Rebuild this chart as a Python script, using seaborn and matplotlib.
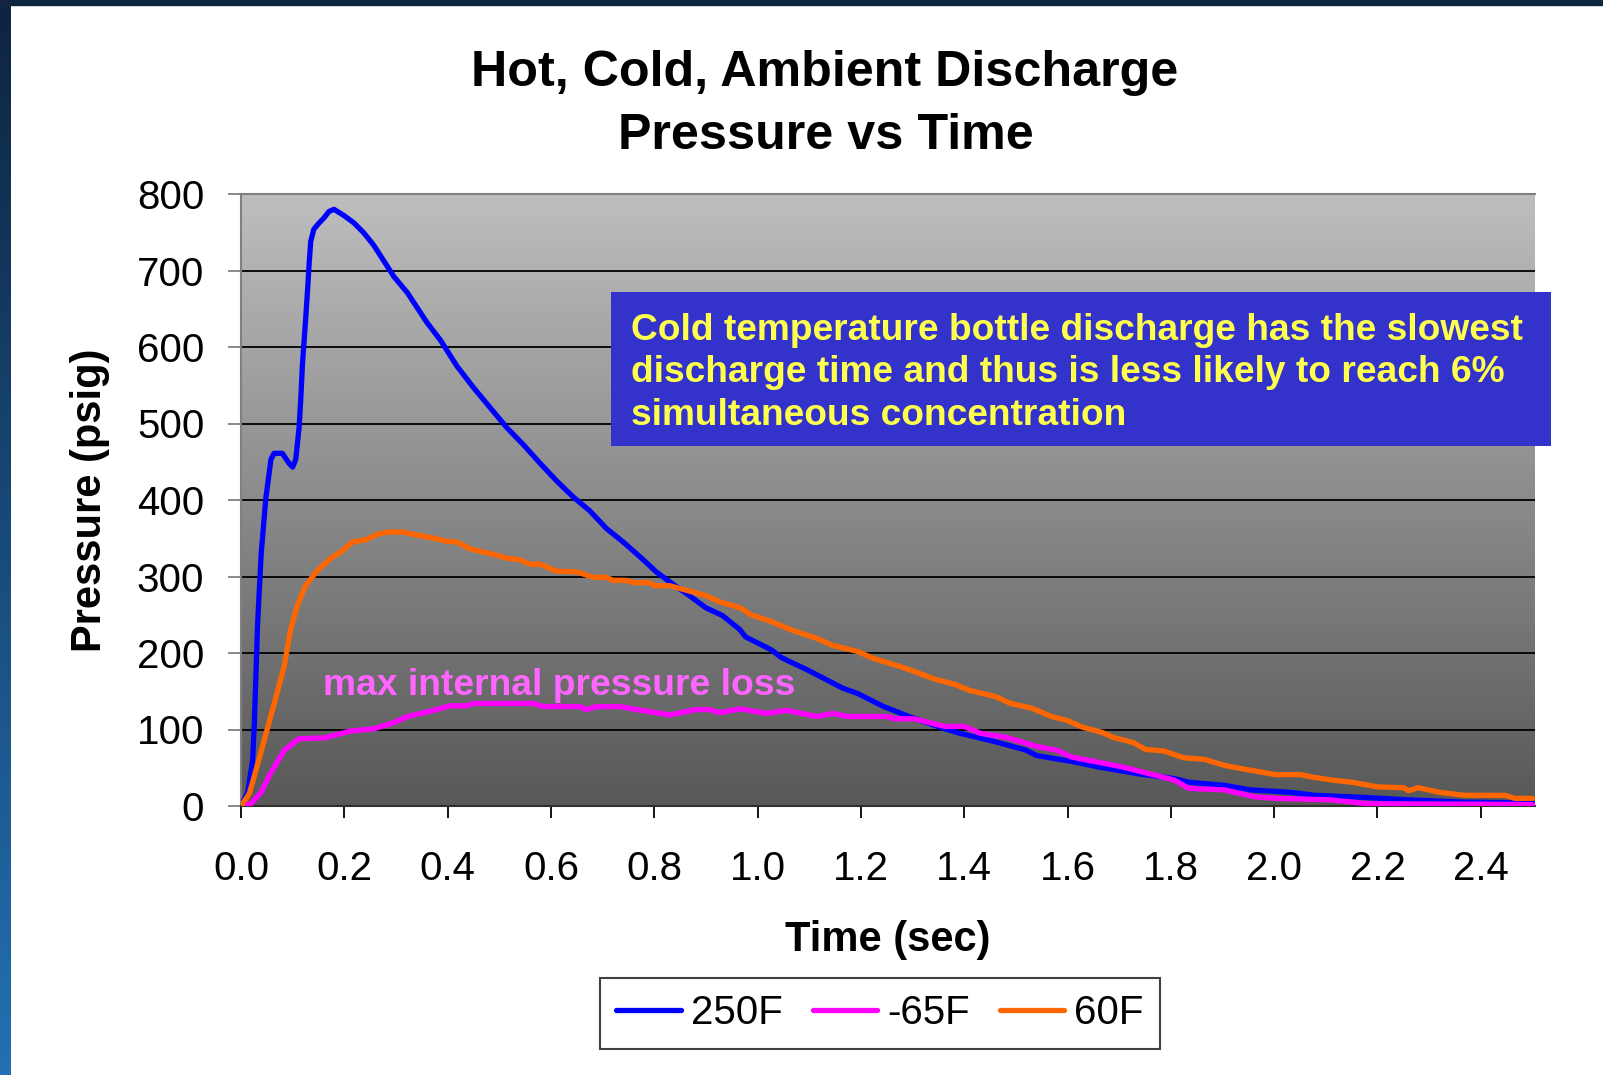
import numpy as np
import pandas as pd
import matplotlib
matplotlib.use("Agg")
import matplotlib.pyplot as plt
import seaborn as sns
from matplotlib.colors import LinearSegmentedColormap
from matplotlib.patches import Rectangle
from matplotlib.lines import Line2D

# ---------------- data ----------------
series_names = ["250F", "-65F", "60F"]
series_colors = ["#0000FF", "#FF00FF", "#FF6600"]

t_250 = [0, 0.013, 0.0225, 0.026, 0.032, 0.039, 0.048, 0.058, 0.064, 0.080, 0.093, 0.100,
         0.106, 0.1125, 0.116, 0.119, 0.125, 0.129, 0.132, 0.135, 0.141, 0.151, 0.161, 0.170,
         0.180, 0.199, 0.219, 0.238, 0.257, 0.277, 0.296, 0.322, 0.36, 0.386, 0.418, 0.45,
         0.482, 0.514, 0.547, 0.579, 0.611, 0.643, 0.675, 0.707, 0.74, 0.772, 0.804, 0.836,
         0.868, 0.9, 0.932, 0.965, 0.977, 1.027, 1.046, 1.096, 1.165, 1.194, 1.244, 1.293,
         1.362, 1.392, 1.46, 1.52, 1.54, 1.61, 1.66, 1.737, 1.806, 1.835, 1.904, 1.954,
         2.03, 2.08, 2.18, 2.26, 2.37, 2.50]
p_250 = [0, 18, 60, 111, 236, 329, 402, 453, 461, 461, 448, 443,
         453, 495, 536, 578, 635, 676, 710, 738, 754, 762, 769, 777,
         780, 772, 762, 749, 733, 712, 692, 671, 632, 609, 575, 547,
         521, 495, 472, 448, 425, 404, 386, 363, 345, 326, 306, 290,
         275, 259, 249, 231, 221, 204, 194, 178, 154, 147, 130, 117,
         101, 95, 84, 73, 66, 58, 51, 42, 36, 31, 27, 21,
         18, 14, 11, 8, 5, 4]

t_m65 = [0, 0.019, 0.039, 0.058, 0.084, 0.1125, 0.161, 0.212, 0.257, 0.296, 0.322, 0.367,
         0.405, 0.437, 0.45, 0.566, 0.585, 0.656, 0.669, 0.688, 0.733, 0.785, 0.83, 0.881,
         0.907, 0.926, 0.967, 1.017, 1.056, 1.115, 1.145, 1.175, 1.253, 1.263, 1.303, 1.362,
         1.401, 1.431, 1.48, 1.54, 1.579, 1.608, 1.707, 1.806, 1.835, 1.904, 1.963, 2.003,
         2.11, 2.18, 2.5]
p_m65 = [0, 3, 18, 44, 73, 88, 89, 98, 101, 109, 117, 124,
         131, 131, 134, 134, 130, 130, 126, 130, 130, 124, 119, 126,
         126, 122, 127, 121, 125, 117, 121, 117, 117, 114, 114, 104,
         104, 95, 90, 78, 73, 64, 51, 34, 23, 21, 12, 10,
         8, 3, 2]

t_60 = [0, 0.016, 0.032, 0.051, 0.0675, 0.084, 0.096, 0.109, 0.125, 0.148, 0.174, 0.193,
        0.215, 0.241, 0.264, 0.283, 0.315, 0.334, 0.373, 0.399, 0.418, 0.444, 0.489, 0.514,
        0.54, 0.559, 0.579, 0.611, 0.65, 0.682, 0.707, 0.72, 0.746, 0.759, 0.791, 0.8,
        0.83, 0.862, 0.9, 0.926, 0.967, 0.987, 1.027, 1.066, 1.115, 1.145, 1.194, 1.224,
        1.273, 1.303, 1.342, 1.382, 1.411, 1.461, 1.49, 1.53, 1.569, 1.599, 1.629, 1.668,
        1.687, 1.727, 1.751, 1.786, 1.825, 1.865, 1.904, 1.944, 2.003, 2.052, 2.072, 2.111,
        2.151, 2.2, 2.25, 2.26, 2.279, 2.319, 2.368, 2.447, 2.466, 2.5]
p_60 = [0, 16, 54, 101, 142, 184, 231, 262, 288, 308, 324, 332,
        345, 348, 355, 358, 358, 355, 350, 346, 345, 336, 329, 324,
        322, 316, 316, 307, 306, 299, 299, 295, 295, 292, 292, 288,
        288, 282, 275, 267, 259, 250, 241, 230, 219, 210, 202, 193,
        183, 176, 166, 159, 151, 143, 134, 128, 117, 112, 103, 96,
        90, 83, 74, 72, 63, 61, 53, 48, 41, 41, 38, 34,
        31, 25, 24, 20, 24, 18, 14, 14, 10, 10]

x_ticks = [0.0, 0.2, 0.4, 0.6, 0.8, 1.0, 1.2, 1.4, 1.6, 1.8, 2.0, 2.2, 2.4]
y_ticks = [0, 100, 200, 300, 400, 500, 600, 700, 800]

title_lines = ["Hot, Cold, Ambient Discharge", "Pressure vs Time"]
note_text = ("Cold temperature bottle discharge has the slowest\n"
             "discharge time and thus is less likely to reach 6%\n"
             "simultaneous concentration")
loss_text = "max internal pressure loss"

series_t = [t_250, t_m65, t_60]
series_p = [p_250, p_m65, p_60]

# ---------------- style ----------------
sns.set_style("white")
plt.rcParams['font.family'] = ['Liberation Sans', 'DejaVu Sans']
plt.rcParams['text.color'] = 'black'
plt.rcParams['axes.labelcolor'] = 'black'
plt.rcParams['xtick.color'] = 'black'
plt.rcParams['ytick.color'] = 'black'

LW = 3.8

W, H = 1603, 1075
fig = plt.figure(figsize=(W / 100, H / 100), dpi=100)
fig.patch.set_facecolor("white")

# slide border (left strip gradient + top strip)
sax = fig.add_axes([0, 0, 11 / W, 1])
sax.imshow(np.linspace(0, 1, 256).reshape(-1, 1), aspect="auto",
           cmap=LinearSegmentedColormap.from_list("slide", ["#0E2440", "#2370B2"]),
           extent=[0, 1, 0, 1], origin="upper")
sax.set_axis_off()
fig.add_artist(Rectangle((0, 1 - 5 / H), 1, 5 / H, transform=fig.transFigure,
                         color="#0F2540", zorder=5))

# main axes
ax = fig.add_axes([241 / W, 1 - 806 / H, 1294 / W, 612 / H])
xmax = 2.505
ax.imshow(np.linspace(1, 0, 256).reshape(-1, 1), aspect="auto",
          cmap=LinearSegmentedColormap.from_list("bg", ["#585858", "#BEBEBE"]),
          extent=[0, xmax, 0, 800], origin="upper", zorder=0, vmin=0, vmax=1)

for name, col, tt, pp in zip(series_names, series_colors, series_t, series_p):
    sns.lineplot(x=tt, y=pp, color=col, linewidth=LW, estimator=None, sort=False,
                 ax=ax, zorder=3, solid_joinstyle="round", solid_capstyle="round")

ax.set_xlim(0, xmax)
ax.set_ylim(0, 800)
ax.set_xticks(x_ticks)
ax.set_xticklabels([f"{v:.1f}" for v in x_ticks])
ax.set_yticks(y_ticks)
ax.set_yticklabels([str(v) for v in y_ticks])

ax.set_axisbelow(True)
ax.yaxis.grid(True, color="black", linewidth=1.3)
ax.xaxis.grid(False)

for side in ["top", "left"]:
    ax.spines[side].set_color("#808080")
    ax.spines[side].set_linewidth(1.5)
ax.spines["bottom"].set_color("#303030")
ax.spines["bottom"].set_linewidth(1.5)
ax.spines["right"].set_visible(False)

ax.tick_params(axis="y", left=True, direction="out", length=9.4, width=1.3,
               color="#808080", pad=17, labelsize=29, labelcolor="black")
ax.tick_params(axis="x", bottom=True, direction="out", length=8.6, width=1.3,
               color="black", pad=23, labelsize=29, labelcolor="black")

ax.set_xlabel("Time (sec)", fontsize=30, fontweight="bold", va="baseline", color="black")
ax.xaxis.set_label_coords(0.5, (806 - 951) / 612)
ax.set_ylabel("Pressure (psig)", fontsize=30, fontweight="bold", va="baseline", color="black")
ax.yaxis.set_label_coords((101 - 241) / 1294, 0.5)

# title
fig.text(825 / W, 1 - 86 / H, title_lines[0], ha="center", va="baseline",
         fontsize=36.2, fontweight="bold", color="black")
fig.text(826 / W, 1 - 149 / H, title_lines[1], ha="center", va="baseline",
         fontsize=36.2, fontweight="bold", color="black")

# annotation box
fig.add_artist(Rectangle((611 / W, 1 - 446 / H), 940 / W, 154 / H,
                         transform=fig.transFigure, facecolor="#3333CC",
                         edgecolor="none", zorder=10))
fig.text(631 / W, 1 - 373 / H, note_text, ha="left", va="center", fontsize=26.7,
         fontweight="bold", color="#FFFF4D", linespacing=1.28, zorder=11)

ax.text(0.159, 145, loss_text, ha="left", va="baseline", fontsize=26.8,
        fontweight="bold", color="#FF66FF", zorder=4)

# legend
handles = [Line2D([], [], color=c, lw=LW, solid_capstyle="round") for c in series_colors]
leg = ax.legend(handles, series_names, loc="center", ncol=3,
                bbox_to_anchor=(880 / W, 1 - 1013.5 / H), bbox_transform=fig.transFigure,
                fontsize=29, handlelength=1.6, handletextpad=0.25, columnspacing=0.75,
                borderpad=0.4, frameon=True, fancybox=False, framealpha=1,
                edgecolor="#404040")
leg.get_frame().set_linewidth(1.5)
for txt in leg.get_texts():
    txt.set_color("black")

fig.savefig("out.png", dpi=100)
